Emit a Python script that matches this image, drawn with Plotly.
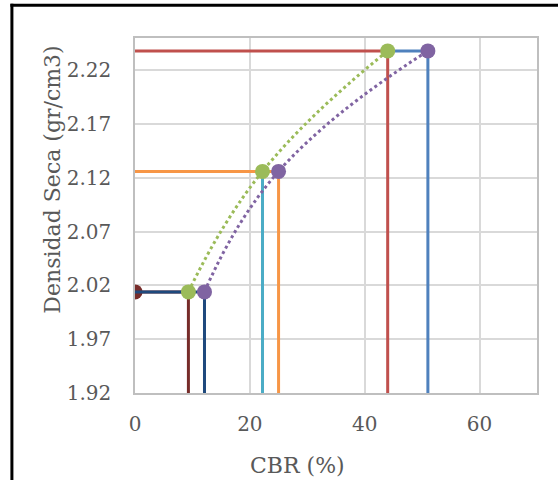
import plotly.graph_objects as go

# Data
dens = [2.014, 2.126, 2.238]          # dry density levels (gr/cm3)
cbr_a = [9.3, 22.2, 44.0]             # green curve CBR values (%)
cbr_b = [12.1, 25.0, 51.0]            # purple curve CBR values (%)
y_min, y_max = 1.92, 2.25
x_min, x_max = 0, 70
x_ticks = [0, 20, 40, 60]
y_ticks = [1.92, 1.97, 2.02, 2.07, 2.12, 2.17, 2.22]

FONT = "DejaVu Serif"
TXT = "#595959"
LW = 3

fig = go.Figure()

def ln(x, y, color):
    fig.add_trace(go.Scatter(x=x, y=y, mode="lines",
                             line=dict(color=color, width=LW),
                             hoverinfo="skip", showlegend=False))

# low level (90%)
ln([0, cbr_a[0], cbr_a[0]], [dens[0], dens[0], y_min], "#772C2A")
fig.add_trace(go.Scatter(x=[0], y=[dens[0]], mode="markers",
                         marker=dict(color="#772C2A", size=15),
                         showlegend=False))
ln([0, cbr_b[0], cbr_b[0]], [dens[0], dens[0], y_min], "#1F497D")
# mid level (95%)
ln([0, cbr_b[1], cbr_b[1]], [dens[1], dens[1], y_min], "#F79646")
ln([cbr_a[1], cbr_a[1]], [dens[1], y_min], "#4BACC6")
# top level (100%)
ln([cbr_a[2], cbr_b[2], cbr_b[2]], [dens[2], dens[2], y_min], "#4F81BD")
ln([0, cbr_a[2], cbr_a[2]], [dens[2], dens[2], y_min], "#C0504D")

# curves
fig.add_trace(go.Scatter(x=cbr_b, y=dens, mode="lines+markers",
                         line=dict(color="#8064A2", width=3, dash="dot",
                                   shape="spline", smoothing=1.3),
                         marker=dict(color="#8064A2", size=15),
                         showlegend=False))
fig.add_trace(go.Scatter(x=cbr_a, y=dens, mode="lines+markers",
                         line=dict(color="#9BBB59", width=3, dash="dot",
                                   shape="spline", smoothing=1.3),
                         marker=dict(color="#9BBB59", size=15),
                         showlegend=False))

W, H = 558, 480
L, R, T, B = 135, 21.3, 38.3, 86.7
pw, ph = W - L - R, H - T - B

def px(xp):
    return (xp - L) / pw

def py(yp):
    return (H - B - yp) / ph

fig.update_layout(
    width=W, height=H,
    margin=dict(l=L, r=R, t=T, b=B, pad=0),
    paper_bgcolor="white", plot_bgcolor="white",
    font=dict(family=FONT, color=TXT, size=20),
    xaxis=dict(range=[x_min, x_max], tickvals=x_ticks,
               ticktext=[str(v) for v in x_ticks],
               showgrid=True, gridcolor="#D9D9D9", gridwidth=1.5,
               showline=True, linecolor="#BFBFBF", linewidth=1.5, mirror=True,
               zeroline=False, ticks="", ticklabelstandoff=12,
               tickfont=dict(family=FONT, size=20, color=TXT)),
    yaxis=dict(range=[y_min, y_max], tickvals=y_ticks,
               ticktext=[f"{v:.2f}" for v in y_ticks],
               showgrid=True, gridcolor="#D9D9D9", gridwidth=1.5,
               showline=True, linecolor="#BFBFBF", linewidth=1.5, mirror=True,
               zeroline=False, ticks="", ticklabelstandoff=18,
               tickfont=dict(family=FONT, size=20, color=TXT)),
    annotations=[
        dict(text="Densidad Seca (gr/cm3)", textangle=-90, xref="paper", yref="paper",
             x=px(53), y=py(180), xanchor="center", yanchor="middle",
             showarrow=False, font=dict(family=FONT, size=22, color=TXT)),
        dict(text="CBR (%)", xref="paper", yref="paper",
             x=px(297.5), y=py(466), xanchor="center", yanchor="middle",
             showarrow=False, font=dict(family=FONT, size=22, color=TXT)),
    ],
    shapes=[
        dict(type="line", xref="paper", yref="paper",
             x0=px(12), x1=px(12), y0=py(490), y1=py(4),
             line=dict(color="black", width=3)),
        dict(type="line", xref="paper", yref="paper",
             x0=px(10.5), x1=px(570), y0=py(5.5), y1=py(5.5),
             line=dict(color="black", width=3)),
    ],
)

fig.write_html("out.html",
               config={"displayModeBar": False},
               post_script="document.body.style.margin='0';document.body.style.overflow='hidden';")
